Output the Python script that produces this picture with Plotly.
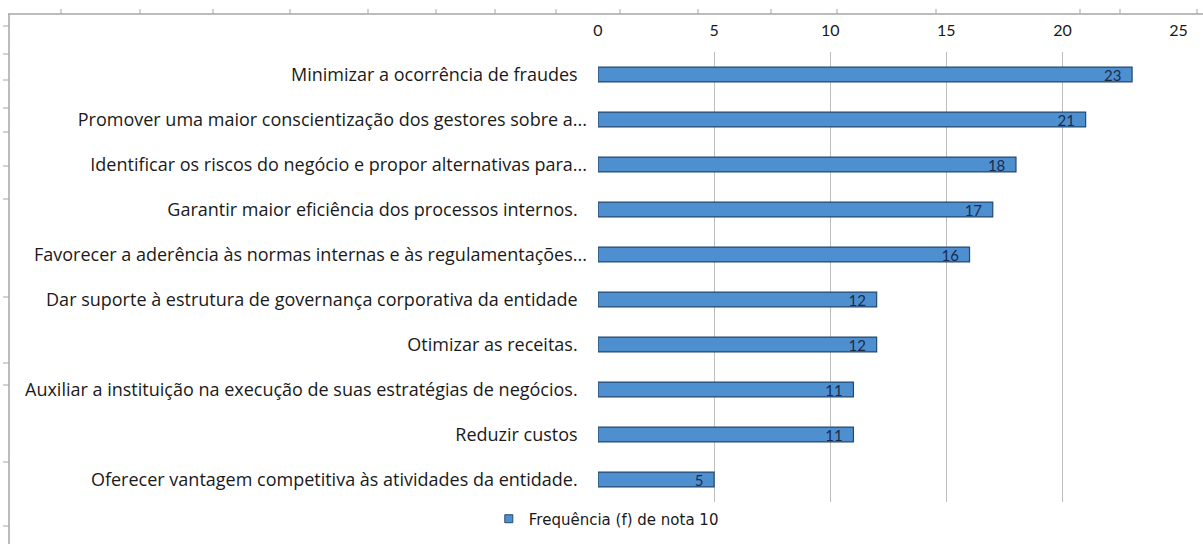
import plotly.graph_objects as go

categories = [
    "Minimizar a ocorrência de fraudes",
    "Promover uma maior conscientização dos gestores sobre a...",
    "Identificar os riscos do negócio e propor alternativas para...",
    "Garantir maior eficiência dos processos internos.",
    "Favorecer a aderência às normas internas e às regulamentações...",
    "Dar suporte à estrutura de governança corporativa da entidade",
    "Otimizar as receitas.",
    "Auxiliar a instituição na execução de suas estratégias de negócios.",
    "Reduzir custos",
    "Oferecer vantagem competitiva às atividades da entidade.",
]
values = [23, 21, 18, 17, 16, 12, 12, 11, 11, 5]
series_name = "Frequência (f) de nota 10"
x_ticks = [0, 5, 10, 15, 20, 25]

W, H = 1203, 544
L, R, T, B = 598, 24, 52, 42
PW, PH = W - L - R, H - T - B

BAR_FILL = "#4E8FD0"
BAR_EDGE = "#27496F"
NBSP = "\u00a0"


def px(x):
    return (x - L) / PW


def py(y):
    return (H - B - y) / PH


# labels without ellipsis sit a little further from the axis in the original
cat_text = [c if c.endswith("...") else c + NBSP * 2 for c in categories]

fig = go.Figure()
fig.add_trace(go.Bar(
    y=categories,
    x=values,
    orientation="h",
    name=series_name,
    width=0.33,
    marker=dict(color=BAR_FILL, line=dict(color=BAR_EDGE, width=1.2)),
    text=[str(v) + NBSP * 2 for v in values],
    textposition="inside",
    insidetextanchor="end",
    textangle=0,
    constraintext="none",
    textfont=dict(family="Lato, sans-serif", size=15, color="#1B2B4A"),
    showlegend=False,
))
# legend entry with a small square symbol
fig.add_trace(go.Scatter(
    x=[None], y=[None], mode="markers", name=series_name,
    marker=dict(symbol="square", size=8, color=BAR_FILL, line=dict(color=BAR_EDGE, width=1)),
    showlegend=True, hoverinfo="skip",
))

# scanned-frame artefacts (thin gray lines with small ticks)
shapes = []
frame_col = "#A6A6A6"
shapes.append(dict(type="line", xref="paper", yref="paper", x0=px(8), x1=px(1203), y0=py(14), y1=py(14),
                   line=dict(color=frame_col, width=1.5)))
shapes.append(dict(type="line", xref="paper", yref="paper", x0=px(9), x1=px(9), y0=py(14), y1=py(544),
                   line=dict(color=frame_col, width=1.5)))
for tx in [61, 140, 213, 290, 368, 436, 495, 556, 620, 698, 771, 837, 936, 1080, 1120, 1197]:
    shapes.append(dict(type="line", xref="paper", yref="paper", x0=px(tx), x1=px(tx), y0=py(14), y1=py(9),
                       line=dict(color=frame_col, width=1)))
for ty in [26, 54, 80, 108, 132, 166, 199, 297, 363, 385, 462, 526]:
    shapes.append(dict(type="line", xref="paper", yref="paper", x0=px(3), x1=px(9), y0=py(ty), y1=py(ty),
                       line=dict(color=frame_col, width=1)))

fig.update_layout(
    width=W, height=H,
    margin=dict(l=L, r=R, t=T, b=B, autoexpand=False),
    paper_bgcolor="white",
    plot_bgcolor="white",
    shapes=shapes,
    showlegend=True,
    legend=dict(
        orientation="h",
        xref="container", yref="container",
        x=0.504, y=0.046, xanchor="center", yanchor="middle",
        font=dict(family="DejaVu Sans, sans-serif", size=15, color="#1a1a1a"),
        itemwidth=30,
        bgcolor="rgba(0,0,0,0)",
    ),
    xaxis=dict(
        side="top",
        range=[0, 25.02],
        tickvals=x_ticks,
        ticktext=[str(t) for t in x_ticks],
        showgrid=True,
        gridcolor="#BDBDBD",
        gridwidth=1,
        zeroline=False,
        showline=False,
        ticks="",
        ticklabelstandoff=12,
        tickfont=dict(family="Lato, sans-serif", size=16, color="#1a1a1a"),
        fixedrange=True,
    ),
    yaxis=dict(
        categoryorder="array",
        categoryarray=categories,
        tickvals=categories,
        ticktext=cat_text,
        autorange="reversed",
        showgrid=False,
        zeroline=False,
        showline=False,
        ticks="",
        ticklabelstandoff=10,
        tickfont=dict(family="Open Sans, sans-serif", size=18, color="#1a1a1a"),
        fixedrange=True,
    ),
)

fig.write_html("out.html")
